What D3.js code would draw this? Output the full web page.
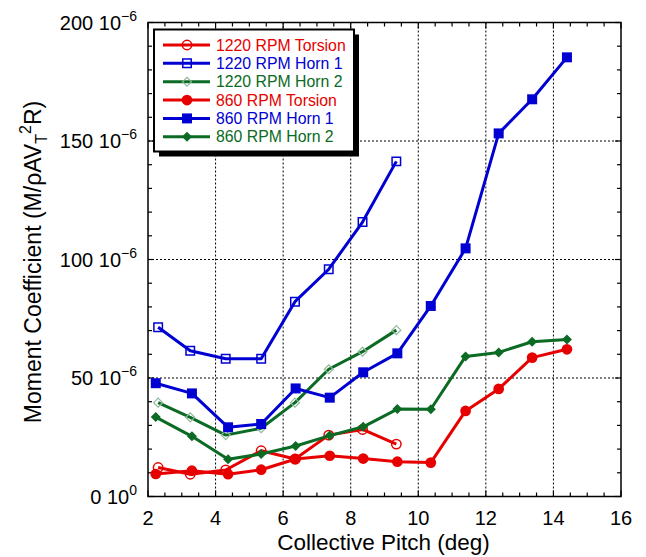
<!DOCTYPE html>
<html>
<head>
<meta charset="utf-8">
<script src="https://cdn.jsdelivr.net/npm/d3@7"></script>
<style>
  html, body { margin: 0; padding: 0; background: #fff; }
  svg { display: block; font-family: "Liberation Sans", Arial, sans-serif; }
</style>
</head>
<body>
<svg id="chart" width="646" height="557"></svg>
<script>
// Collective pitch (deg) for each rotor speed
const pitch1220 = [2.3, 3.25, 4.3, 5.35, 6.35, 7.35, 8.35, 9.35];
const pitch860  = [2.23, 3.3, 4.37, 5.35, 6.37, 7.38, 8.37, 9.38, 10.37, 11.4, 12.38, 13.37, 14.4];

// Moment coefficients, in units of 10^-6
const torsion1220 = [12.2, 9.4, 11.2, 19.3, 15.8, 25.9, 28.3, 22.1];
const horn1_1220  = [71.4, 61.5, 58.1, 58.1, 82.2, 95.9, 115.8, 141.4];
const horn2_1220  = [39.6, 33.4, 25.9, 28.8, 39.6, 53.7, 61.1, 70.2];

const torsion860 = [9.5, 10.9, 9.4, 11.3, 15.8, 17.2, 16.0, 14.7, 14.3, 36.1, 45.4, 58.6, 62.1];
const horn1_860  = [47.8, 43.5, 29.2, 30.6, 45.6, 41.7, 52.4, 60.4, 80.4, 104.7, 153.2, 167.6, 185.3];
const horn2_860  = [33.5, 25.4, 15.7, 17.9, 21.3, 25.7, 29.4, 36.9, 36.8, 59.1, 60.8, 65.3, 66.2];

const seriesNames = ["1220 RPM Torsion", "1220 RPM Horn 1", "1220 RPM Horn 2",
                     "860 RPM Torsion", "860 RPM Horn 1", "860 RPM Horn 2"];

const xTicks = [2, 4, 6, 8, 10, 12, 14, 16];
const yTicks = [0, 50, 100, 150, 200];
const yTickMantissa = ["0", "50", "100", "150", "200"];
const yTickExponent = ["0", "-6", "-6", "-6", "-6"];

const RED = "#e60000", BLUE = "#0000d2", GREEN = "#0b6a24";

const series = [
  { name: seriesNames[0], x: pitch1220, y: torsion1220, color: RED,   marker: "circle",  filled: false },
  { name: seriesNames[1], x: pitch1220, y: horn1_1220,  color: BLUE,  marker: "square",  filled: false },
  { name: seriesNames[2], x: pitch1220, y: horn2_1220,  color: GREEN, marker: "diamond", filled: false },
  { name: seriesNames[3], x: pitch860,  y: torsion860,  color: RED,   marker: "circle",  filled: true },
  { name: seriesNames[4], x: pitch860,  y: horn1_860,   color: BLUE,  marker: "square",  filled: true },
  { name: seriesNames[5], x: pitch860,  y: horn2_860,   color: GREEN, marker: "diamond", filled: true }
];

const svg = d3.select("#chart");
const L = 148, R = 621, T = 22.5, B = 496.5;

const x = d3.scaleLinear().domain([2, 16]).range([L, R]);
const y = d3.scaleLinear().domain([0, 200]).range([B, T]);

// dotted grid at the major ticks
const grid = svg.append("g").attr("stroke", "#000").attr("stroke-width", 1).attr("stroke-dasharray", "2,2");
xTicks.filter(v => v > 2 && v < 16).forEach(v => {
  grid.append("line").attr("x1", x(v)).attr("x2", x(v)).attr("y1", T).attr("y2", B);
});
yTicks.filter(v => v > 0 && v < 200).forEach(v => {
  grid.append("line").attr("x1", L).attr("x2", R).attr("y1", y(v)).attr("y2", y(v));
});

// inward ticks on all four sides
const tickG = svg.append("g").attr("stroke", "#000").attr("stroke-width", 1.2);
d3.range(2, 16.001, 0.5).forEach(v => {
  const len = (v % 2 === 0) ? 6 : 4;
  tickG.append("line").attr("x1", x(v)).attr("x2", x(v)).attr("y1", B).attr("y2", B - len);
  tickG.append("line").attr("x1", x(v)).attr("x2", x(v)).attr("y1", T).attr("y2", T + len);
});
d3.range(0, 200.001, 10).forEach(v => {
  const len = (v % 50 === 0) ? 6 : 4;
  tickG.append("line").attr("x1", L).attr("x2", L + len).attr("y1", y(v)).attr("y2", y(v));
  tickG.append("line").attr("x1", R).attr("x2", R - len).attr("y1", y(v)).attr("y2", y(v));
});

// frame
svg.append("rect").attr("x", L).attr("y", T).attr("width", R - L).attr("height", B - T)
  .attr("fill", "none").attr("stroke", "#000").attr("stroke-width", 1.5);

// x tick labels
const xAxisLabels = svg.append("g").attr("font-size", 20).attr("text-anchor", "middle").attr("fill", "#000");
xTicks.forEach(v => {
  xAxisLabels.append("text").attr("x", x(v)).attr("y", 525).text(v);
});

// y tick labels in "mantissa 10^exp" form
const yAxisLabels = svg.append("g").attr("font-size", 20).attr("text-anchor", "end").attr("fill", "#000");
yTicks.forEach((v, i) => {
  const t = yAxisLabels.append("text").attr("x", 137).attr("y", y(v) + 7);
  t.append("tspan").text(yTickMantissa[i] + " 10");
  t.append("tspan").attr("font-size", 14).attr("dy", -9).text(yTickExponent[i].replace("-", "\u2212"));
});

// axis titles
svg.append("text").attr("x", (L + R) / 2 - 1).attr("y", 550).attr("text-anchor", "middle")
  .attr("font-size", 22.5).text("Collective Pitch (deg)");

const yTitle = svg.append("text").attr("transform", "translate(41,262) rotate(-90)")
  .attr("text-anchor", "middle").attr("font-size", 23);
yTitle.append("tspan").text("Moment Coefficient (M/\u03c1AV");
yTitle.append("tspan").attr("font-size", 16).attr("dy", 6).text("T");
yTitle.append("tspan").attr("font-size", 16).attr("dy", -16).text("2");
yTitle.append("tspan").attr("dy", 10).text("R)");

// marker shapes
const diamondType = {
  draw(ctx, size) {
    const r = Math.sqrt(size / 2);
    ctx.moveTo(0, -r); ctx.lineTo(r, 0); ctx.lineTo(0, r); ctx.lineTo(-r, 0); ctx.closePath();
  }
};
function markerPath(s) {
  if (s.marker === "circle") return d3.symbol(d3.symbolCircle, s.filled ? 90 : 70)();
  if (s.marker === "square") return d3.symbol(d3.symbolSquare, s.filled ? 100 : 72)();
  return d3.symbol(diamondType, s.filled ? 50 : 40)();
}
function drawMarker(g, s, cx, cy) {
  const p = g.append("path").attr("d", markerPath(s)).attr("transform", `translate(${cx},${cy})`);
  if (s.filled) {
    p.attr("fill", s.color).attr("stroke", "none");
  } else if (s.marker === "diamond") {
    p.attr("fill", "none").attr("stroke", "#8fb99a").attr("stroke-width", 1.2);
  } else {
    p.attr("fill", "none").attr("stroke", s.color).attr("stroke-width", 1.5);
  }
}

const line = d3.line().x(d => x(d[0])).y(d => y(d[1]));
const dataG = svg.append("g");
series.forEach(s => {
  const pts = s.x.map((v, i) => [v, s.y[i]]);
  const g = dataG.append("g");
  g.append("path").attr("d", line(pts)).attr("fill", "none")
    .attr("stroke", s.color).attr("stroke-width", 3).attr("stroke-linejoin", "round");
  pts.forEach(p => drawMarker(g, s, x(p[0]), y(p[1])));
});

// legend with drop shadow
const lg = svg.append("g");
const bx = 154, by = 29.5, bw = 200, bh = 122;
lg.append("rect").attr("x", bx + 5).attr("y", by + 5).attr("width", bw).attr("height", bh).attr("fill", "#000");
lg.append("rect").attr("x", bx).attr("y", by).attr("width", bw).attr("height", bh)
  .attr("fill", "#fff").attr("stroke", "#000").attr("stroke-width", 2);
series.forEach((s, i) => {
  const ry = 45 + i * 18.35;
  lg.append("line").attr("x1", 163).attr("x2", 210).attr("y1", ry).attr("y2", ry)
    .attr("stroke", s.color).attr("stroke-width", 3);
  drawMarker(lg, s, 187, ry);
  lg.append("text").attr("x", 216).attr("y", ry + 5.5).attr("font-size", 15.8)
    .attr("fill", s.color).text(s.name);
});
</script>
</body>
</html>
